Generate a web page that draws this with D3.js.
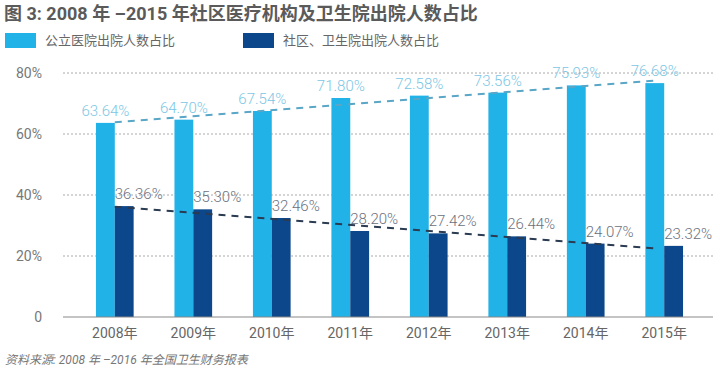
<!DOCTYPE html>
<html>
<head>
<meta charset="utf-8">
<script src="https://cdn.jsdelivr.net/npm/d3@7"></script>
<style>
  body { margin: 0; background: #fff; }
  svg { display: block; font-family: Roboto, "Noto Sans CJK SC", sans-serif; }
</style>
</head>
<body>
<div id="chart"></div>
<script>
// data
const years = ["2008年", "2009年", "2010年", "2011年", "2012年", "2013年", "2014年", "2015年"];
const publicShare = [63.64, 64.70, 67.54, 71.80, 72.58, 73.56, 75.93, 76.68];
const communityShare = [36.36, 35.30, 32.46, 28.20, 27.42, 26.44, 24.07, 23.32];
const yTicks = [0, 20, 40, 60, 80];
const seriesNames = ["公立医院出院人数占比", "社区、卫生院出院人数占比"];

const w = 720, h = 370;
const light = "#21b2e7", dark = "#0b478a";

const svg = d3.select("#chart").append("svg")
    .attr("width", w)
    .attr("height", h);

// title
svg.append("text")
    .attr("x", 4)
    .attr("y", 20)
    .attr("font-size", 18)
    .attr("font-weight", "bold")
    .attr("fill", "#5a5a5a")
    .text("图 3: 2008 年 –2015 年社区医疗机构及卫生院出院人数占比");

// legend
const legend = svg.append("g");
[[5, light], [243, dark]].forEach((d, i) => {
    legend.append("rect")
        .attr("x", d[0]).attr("y", 33)
        .attr("width", 31).attr("height", 15)
        .attr("fill", d[1]);
    legend.append("text")
        .attr("x", d[0] + 40).attr("y", 45)
        .attr("font-size", 13)
        .attr("fill", "#666")
        .text(seriesNames[i]);
});

// scales
const x = d3.scaleBand()
    .domain(years)
    .range([63, 716])
    .paddingInner(0.52)
    .paddingOuter(0.42);
const xs = d3.scaleBand()
    .domain([0, 1])
    .range([0, x.bandwidth()]);
const y = d3.scaleLinear()
    .domain([0, 80])
    .range([317, 73]);

// grid
svg.append("g")
    .selectAll("line")
    .data(yTicks.filter(t => t > 0))
    .enter()
    .append("line")
        .attr("x1", 63).attr("x2", 713)
        .attr("y1", d => y(d)).attr("y2", d => y(d))
        .attr("stroke", "#aaa")
        .attr("stroke-width", 1)
        .attr("stroke-dasharray", "2,2");

// y labels
svg.append("g")
    .selectAll("text")
    .data(yTicks)
    .enter()
    .append("text")
        .attr("x", 42)
        .attr("y", d => y(d) + 5)
        .attr("text-anchor", "end")
        .attr("font-size", 14)
        .attr("fill", "#777")
        .text(d => d === 0 ? "0" : d + "%");

// bars
const groups = svg.append("g")
    .selectAll("g")
    .data(years)
    .enter()
    .append("g")
        .attr("transform", d => `translate(${x(d)},0)`);

groups.append("rect")
    .attr("x", xs(0))
    .attr("y", (d, i) => y(publicShare[i]))
    .attr("width", xs.bandwidth())
    .attr("height", (d, i) => y(0) - y(publicShare[i]))
    .attr("fill", light);

groups.append("rect")
    .attr("x", xs(1))
    .attr("y", (d, i) => y(communityShare[i]))
    .attr("width", xs.bandwidth())
    .attr("height", (d, i) => y(0) - y(communityShare[i]))
    .attr("fill", dark);

// baseline
svg.append("line")
    .attr("x1", 63).attr("x2", 713)
    .attr("y1", y(0)).attr("y2", y(0))
    .attr("stroke", "#888")
    .attr("stroke-width", 1);

// trend lines (least squares fit of each series)
function fit(vals) {
    const n = vals.length, mx = (n - 1) / 2, my = d3.mean(vals);
    const s = d3.sum(vals, (v, i) => (i - mx) * (v - my)) / d3.sum(vals, (v, i) => (i - mx) * (i - mx));
    return i => my + s * (i - mx);
}
const mid = i => x(years[i]) + x.bandwidth() / 2;
[[publicShare, "#5aa6c6"], [communityShare, "#2a3b52"]].forEach(d => {
    const f = fit(d[0]);
    const last = years.length - 1;
    svg.append("line")
        .attr("x1", mid(0)).attr("y1", y(f(0)))
        .attr("x2", mid(last) - 8).attr("y2", y(f(last - 8 / x.step())))
        .attr("stroke", d[1])
        .attr("stroke-width", 2)
        .attr("stroke-dasharray", "7,6");
});

// value labels
groups.append("text")
    .attr("x", xs(0) + xs.bandwidth() / 2)
    .attr("y", (d, i) => y(publicShare[i]) - 7)
    .attr("text-anchor", "middle")
    .attr("font-size", 15)
    .attr("font-weight", 300)
    .attr("fill", "#7cc6e4")
    .text((d, i) => publicShare[i].toFixed(2) + "%");

groups.append("text")
    .attr("x", xs(1))
    .attr("y", (d, i) => y(communityShare[i]) - 7)
    .attr("font-size", 15)
    .attr("font-weight", 300)
    .attr("fill", "#6b7180")
    .text((d, i) => communityShare[i].toFixed(2) + "%");

// x labels
svg.append("g")
    .selectAll("text")
    .data(years)
    .enter()
    .append("text")
        .attr("x", d => x(d) + x.bandwidth() / 2)
        .attr("y", 338)
        .attr("text-anchor", "middle")
        .attr("font-size", 14)
        .attr("fill", "#666")
        .text(d => d);

// source
svg.append("text")
    .attr("x", 5)
    .attr("y", 364)
    .attr("font-size", 12)
    .attr("font-style", "italic")
    .attr("fill", "#777")
    .text("资料来源: 2008 年 –2016 年全国卫生财务报表");
</script>
</body>
</html>
